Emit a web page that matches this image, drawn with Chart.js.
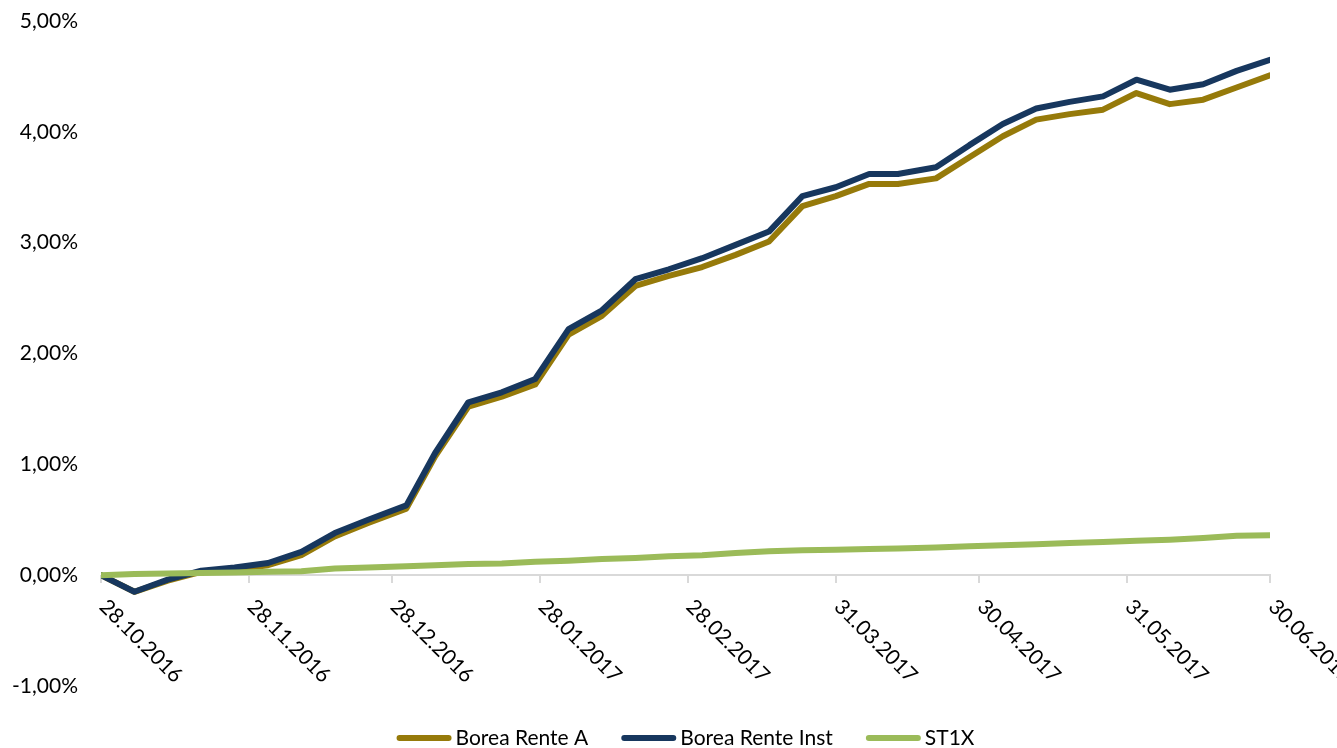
<!DOCTYPE html>
<html>
<head>
<meta charset="utf-8">
<script src="https://cdn.jsdelivr.net/npm/chart.js@4.4.0/dist/chart.umd.min.js"></script>
<style>
  html, body { margin: 0; padding: 0; background: #fff; }
  #wrap { width: 1337px; height: 748px; }
</style>
</head>
<body>
<div id="wrap"><canvas id="chart"></canvas></div>
<script>
// weekly values in %
const dates = [
  "28.10.2016", "04.11.2016", "11.11.2016", "18.11.2016", "25.11.2016", "02.12.2016",
  "09.12.2016", "16.12.2016", "23.12.2016", "31.12.2016", "06.01.2017", "13.01.2017",
  "20.01.2017", "27.01.2017", "03.02.2017", "10.02.2017", "17.02.2017", "24.02.2017",
  "03.03.2017", "10.03.2017", "17.03.2017", "24.03.2017", "31.03.2017", "07.04.2017",
  "13.04.2017", "21.04.2017", "28.04.2017", "05.05.2017", "12.05.2017", "19.05.2017",
  "26.05.2017", "02.06.2017", "09.06.2017", "16.06.2017", "23.06.2017", "30.06.2017"
];
const boreaRenteA = [
  0, -0.15, -0.05, 0.03, 0.05, 0.09, 0.18, 0.35, 0.47, 0.60,
  1.07, 1.52, 1.61, 1.72, 2.17, 2.34, 2.61, 2.70, 2.78, 2.89,
  3.01, 3.33, 3.42, 3.53, 3.53, 3.58, 3.77, 3.96, 4.11, 4.16,
  4.20, 4.35, 4.25, 4.29, 4.40, 4.51
];
const boreaRenteInst = [
  0, -0.15, -0.04, 0.04, 0.07, 0.11, 0.21, 0.38, 0.50, 0.63,
  1.10, 1.56, 1.65, 1.77, 2.22, 2.39, 2.67, 2.76, 2.86, 2.98,
  3.10, 3.42, 3.50, 3.62, 3.62, 3.68, 3.88, 4.07, 4.21, 4.27,
  4.32, 4.47, 4.38, 4.43, 4.55, 4.65
];
const st1x = [
  0, 0.01, 0.015, 0.02, 0.025, 0.03, 0.035, 0.06, 0.07, 0.08,
  0.09, 0.10, 0.105, 0.12, 0.13, 0.145, 0.155, 0.17, 0.18, 0.20,
  0.215, 0.225, 0.23, 0.235, 0.24, 0.25, 0.26, 0.27, 0.28, 0.29,
  0.30, 0.31, 0.32, 0.335, 0.355, 0.36
];
const axisDates = [
  "28.10.2016", "28.11.2016", "28.12.2016", "28.01.2017", "28.02.2017",
  "31.03.2017", "30.04.2017", "31.05.2017", "30.06.2017"
];
const seriesNames = ["Borea Rente A", "Borea Rente Inst", "ST1X"];

const FONT = "Lato, 'Open Sans', sans-serif";
const FONT_SIZE = 21;

function dayNumber(s) {
  const [d, m, y] = s.split(".").map(Number);
  return Date.UTC(y, m - 1, d) / 86400000;
}
const startDay = dayNumber(dates[0]);
const endDay = dayNumber(dates[dates.length - 1]);

function toPoints(values) {
  return dates.map((d, i) => ({ x: dayNumber(d) - startDay, y: values[i] }));
}

// x axis sits on the 0% line, labels turned 45 degrees downwards
const dateAxis = {
  id: "dateAxis",
  beforeDatasetsDraw(chart) {
    const { ctx, chartArea, scales: { x, y } } = chart;
    const y0 = Math.round(y.getPixelForValue(0));
    ctx.save();
    ctx.strokeStyle = "#d9d9d9";
    ctx.lineWidth = 2;
    ctx.beginPath();
    ctx.moveTo(chartArea.left, y0);
    ctx.lineTo(chartArea.right + 1, y0);
    axisDates.forEach((d) => {
      const px = Math.round(x.getPixelForValue(dayNumber(d) - startDay));
      ctx.moveTo(px, y0);
      ctx.lineTo(px, y0 + 8);
    });
    ctx.stroke();
    ctx.restore();
  },
  afterDraw(chart) {
    const { ctx, scales: { x, y } } = chart;
    const y0 = y.getPixelForValue(0);
    ctx.save();
    ctx.fillStyle = "#000";
    ctx.font = FONT_SIZE + "px " + FONT;
    ctx.textAlign = "left";
    ctx.textBaseline = "middle";
    axisDates.forEach((d) => {
      const px = x.getPixelForValue(dayNumber(d) - startDay);
      ctx.save();
      ctx.translate(px + 2, y0 + 28);
      ctx.rotate(Math.PI / 4);
      ctx.fillText(d, 0, 0);
      ctx.restore();
    });
    ctx.restore();
  }
};

const bottomLegend = {
  id: "bottomLegend",
  afterDraw(chart) {
    const { ctx, chartArea } = chart;
    const markW = 55, gap = 4, spacing = 33, ly = 738;
    ctx.save();
    ctx.font = FONT_SIZE + "px " + FONT;
    ctx.textBaseline = "middle";
    ctx.textAlign = "left";
    const sets = chart.data.datasets;
    let total = 0;
    sets.forEach((ds, i) => {
      total += markW + gap + ctx.measureText(ds.label).width;
      if (i < sets.length - 1) total += spacing;
    });
    let lx = (chartArea.left + chartArea.right) / 2 - total / 2;
    sets.forEach((ds) => {
      ctx.strokeStyle = ds.borderColor;
      ctx.lineWidth = 6;
      ctx.lineCap = "round";
      ctx.beginPath();
      ctx.moveTo(lx + 3, ly);
      ctx.lineTo(lx + markW - 3, ly);
      ctx.stroke();
      lx += markW + gap;
      ctx.fillStyle = "#000";
      ctx.fillText(ds.label, lx, ly);
      lx += ctx.measureText(ds.label).width + spacing;
    });
    ctx.restore();
  }
};

new Chart(document.getElementById("chart"), {
  type: "line",
  data: {
    datasets: [
      { label: seriesNames[0], data: toPoints(boreaRenteA), borderColor: "#967a0a", order: 2 },
      { label: seriesNames[1], data: toPoints(boreaRenteInst), borderColor: "#17375e", order: 1 },
      { label: seriesNames[2], data: toPoints(st1x), borderColor: "#9bbb59", order: 0 }
    ]
  },
  options: {
    responsive: true,
    maintainAspectRatio: false,
    animation: false,
    layout: { padding: { top: 21, right: 67, bottom: 62, left: 0 } },
    elements: {
      point: { radius: 0 },
      line: { borderWidth: 6, tension: 0, borderCapStyle: "round", borderJoinStyle: "round" }
    },
    plugins: {
      legend: { display: false },
      tooltip: { enabled: false }
    },
    scales: {
      x: { type: "linear", min: 0, max: endDay - startDay, display: false },
      y: {
        min: -1,
        max: 5,
        afterFit(scale) { scale.width = 101; },
        // tick marks stay hidden, their length only pushes the labels left
        grid: { display: false, drawTicks: true, tickLength: 23, color: "rgba(0,0,0,0)" },
        border: { display: false },
        ticks: {
          stepSize: 1,
          padding: 0,
          color: "#000",
          font: { family: FONT, size: FONT_SIZE },
          callback: (v) => v.toFixed(2).replace(".", ",") + "%"
        }
      }
    }
  },
  plugins: [dateAxis, bottomLegend]
});
</script>
</body>
</html>
